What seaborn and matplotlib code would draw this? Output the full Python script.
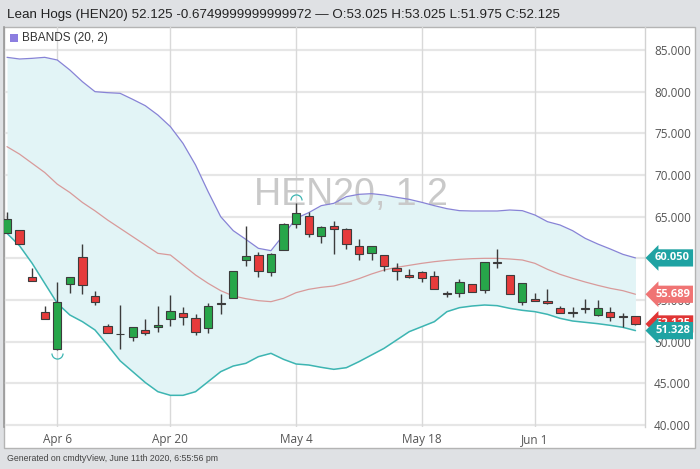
import numpy as np
import pandas as pd
import matplotlib
matplotlib.use("Agg")
import matplotlib.pyplot as plt
import matplotlib.transforms as mtransforms
import seaborn as sns
from matplotlib.path import Path
from matplotlib.patches import Rectangle

# ---------------- data ----------------
dates = ["2020-03-31", "2020-04-01", "2020-04-02", "2020-04-03",
         "2020-04-06", "2020-04-07", "2020-04-08", "2020-04-09",
         "2020-04-13", "2020-04-14", "2020-04-15", "2020-04-16", "2020-04-17",
         "2020-04-20", "2020-04-21", "2020-04-22", "2020-04-23", "2020-04-24",
         "2020-04-27", "2020-04-28", "2020-04-29", "2020-04-30", "2020-05-01",
         "2020-05-04", "2020-05-05", "2020-05-06", "2020-05-07", "2020-05-08",
         "2020-05-11", "2020-05-12", "2020-05-13", "2020-05-14", "2020-05-15",
         "2020-05-18", "2020-05-19", "2020-05-20", "2020-05-21", "2020-05-22",
         "2020-05-26", "2020-05-27", "2020-05-28", "2020-05-29",
         "2020-06-01", "2020-06-02", "2020-06-03", "2020-06-04", "2020-06-05",
         "2020-06-08", "2020-06-09", "2020-06-10", "2020-06-11"]

opens = [63.08, 63.36, 57.72, 53.52, 49.08, 56.96, 60.20, 55.48, 51.92, 50.95,
         50.60, 51.44, 51.72, 52.68, 53.40, 52.88, 51.64, 54.55, 55.28, 59.84,
         60.36, 58.32, 61.04, 64.08, 65.12, 62.72, 63.88, 63.52, 61.52, 60.60,
         60.40, 58.84, 58.04, 58.40, 57.88, 55.78, 55.80, 56.88, 56.20, 59.56,
         57.96, 54.80, 55.08, 54.88, 54.04, 53.54, 53.98, 53.20, 53.60, 53.02,
         53.025]
highs = [65.52, 63.40, 58.80, 54.28, 57.12, 57.72, 61.72, 56.08, 52.16, 54.36,
         51.80, 52.76, 54.32, 55.60, 54.20, 53.32, 54.68, 55.72, 58.44, 63.92,
         60.72, 60.60, 64.20, 66.60, 65.52, 63.90, 64.52, 63.60, 62.28, 61.50,
         60.40, 59.48, 58.68, 58.50, 58.48, 56.12, 57.48, 56.90, 59.60, 61.16,
         58.00, 57.00, 55.80, 56.36, 54.32, 54.12, 55.12, 55.00, 54.20, 53.40,
         53.025]
lows = [63.00, 61.72, 57.24, 52.72, 49.00, 55.80, 55.68, 54.36, 51.04, 49.08,
        50.08, 50.84, 51.12, 51.92, 52.00, 50.84, 51.00, 53.28, 55.28, 59.08,
        57.80, 57.92, 61.00, 63.60, 62.52, 61.80, 60.48, 61.12, 59.80, 59.80,
        58.48, 57.40, 57.64, 57.12, 56.32, 55.40, 55.40, 55.92, 55.80, 58.88,
        55.68, 54.40, 54.92, 54.50, 53.40, 52.92, 53.48, 53.10, 52.48, 51.72,
        51.975]
closes = [64.72, 61.72, 57.24, 52.72, 54.72, 57.72, 56.84, 54.76, 51.04, 50.90,
          51.76, 51.04, 52.00, 53.72, 52.96, 51.12, 54.32, 54.62, 58.44, 60.24,
          58.44, 60.52, 64.16, 65.44, 62.96, 63.80, 63.48, 61.72, 60.48, 61.48,
          59.12, 58.44, 57.80, 57.68, 56.32, 55.74, 57.16, 55.92, 59.56, 59.50,
          55.68, 57.00, 54.92, 54.60, 53.48, 53.50, 53.94, 54.00, 53.00, 52.98,
          52.125]

# Bollinger bands (20, 2) as drawn
upper = [84.12, 83.92, 84.00, 84.12, 83.80, 82.60, 81.20, 80.00, 79.88, 79.80,
         79.08, 78.32, 77.20, 75.80, 73.80, 71.20, 68.00, 65.00, 63.32, 62.28,
         61.20, 60.92, 62.80, 64.80, 65.48, 66.32, 66.60, 67.40, 67.68, 67.76,
         67.60, 67.32, 67.08, 66.72, 66.32, 65.96, 65.72, 65.68, 65.68, 65.68,
         65.80, 65.72, 65.20, 64.40, 64.00, 63.32, 62.40, 61.72, 61.12, 60.48,
         60.050]
middle = [73.40, 72.50, 71.40, 70.30, 68.90, 67.90, 66.70, 65.70, 64.60, 63.60,
          62.60, 61.60, 60.60, 60.40, 59.20, 58.00, 57.00, 56.12, 55.48, 55.16,
          54.92, 54.80, 55.20, 55.88, 56.28, 56.52, 56.68, 57.08, 57.56, 58.12,
          58.60, 58.92, 59.16, 59.40, 59.60, 59.76, 59.88, 59.96, 60.00, 60.00,
          59.92, 59.80, 59.40, 58.68, 58.08, 57.60, 57.16, 56.76, 56.40, 56.12,
          55.689]
lower = [63.00, 61.50, 59.40, 57.00, 54.60, 53.20, 52.40, 51.40, 49.60, 47.70,
         46.40, 45.10, 44.00, 43.56, 43.56, 44.00, 45.20, 46.40, 47.08, 47.40,
         48.20, 48.60, 47.88, 47.32, 47.20, 46.92, 46.68, 46.88, 47.60, 48.40,
         49.20, 50.20, 51.20, 51.80, 52.40, 53.60, 54.08, 54.28, 54.40, 54.32,
         54.00, 53.76, 53.60, 53.28, 52.80, 52.48, 52.32, 52.16, 51.96, 51.72,
         51.328]

tick_dates = ["2020-04-06", "2020-04-20", "2020-05-04", "2020-05-18", "2020-06-01"]
tick_labels = ["Apr 6", "Apr 20", "May 4", "May 18", "Jun 1"]
y_ticks = [40, 45, 50, 55, 60, 65, 70, 75, 80, 85]

title = ("Lean Hogs (HEN20) 52.125 -0.6749999999999972 \u2014 "
         "O:53.025 H:53.025 L:51.975 C:52.125")
footer = "Generated on cmdtyView, June 11th 2020, 6:55:56 pm"

# ---------------- style ----------------
sns.set_theme(style="white")
plt.rcParams["font.family"] = ["Open Sans", "DejaVu Sans"]

GREEN = "#27a64a"
RED = "#e63b3b"
EDGE = "#3c3c3c"
C_UP = "#8783d6"
C_MID = "#d89a9a"
C_LOW = "#3db5b2"
FILL = "#e2f4f6"

df = pd.DataFrame({"date": pd.to_datetime(dates), "open": opens, "high": highs,
                   "low": lows, "close": closes, "upper": upper,
                   "middle": middle, "lower": lower})
df["i"] = np.arange(len(df))

fig = plt.figure(figsize=(7.0, 4.69), dpi=100)
fig.patch.set_facecolor("#dfe1e4")
W, H = 700.0, 469.0
fig.patches.append(Rectangle((4 / W, (H - 448) / H), 691 / W, 421 / H,
                             transform=fig.transFigure, facecolor="white",
                             edgecolor="#b4b4b4", linewidth=1, zorder=-5))

ax = fig.add_axes([4 / W, (H - 427) / H, 641 / W, 400 / H])
ax.set_facecolor("none")
ax.set_zorder(1)

# band fill and lines
ax.fill_between(df["i"], df["lower"], df["upper"], color=FILL, zorder=1, lw=0)
sns.lineplot(data=df, x="i", y="upper", color=C_UP, lw=0.9, ax=ax, zorder=2)
sns.lineplot(data=df, x="i", y="middle", color=C_MID, lw=0.9, ax=ax, zorder=2)
sns.lineplot(data=df, x="i", y="lower", color=C_LOW, lw=1.1, ax=ax, zorder=2)

# candles
body_lo = np.minimum(df["open"], df["close"])
body_h = np.maximum(np.abs(df["close"] - df["open"]), 0.06)
cols = np.where(df["close"] >= df["open"], GREEN, RED)
ax.vlines(df["i"], df["low"], df["high"], color=EDGE, lw=1.0, zorder=3)
ax.bar(df["i"], body_h, bottom=body_lo, width=0.66, color=cols,
       edgecolor=EDGE, linewidth=0.8, zorder=4)

# high / low markers
i_hi = int(df["high"].idxmax())
i_lo = int(df["low"].idxmin())
ax.plot(i_hi, df["high"][i_hi] + 0.35, marker=Path.arc(0, 180), ms=8,
        mfc="none", mec=C_LOW, mew=0.9, zorder=5)
ax.plot(i_lo, df["low"][i_lo] - 0.35, marker=Path.arc(180, 360), ms=8,
        mfc="none", mec=C_LOW, mew=0.9, zorder=5)

# axes
ax.set_xlim(-0.24, len(df) - 0.24)
ax.set_ylim(39.76, 87.76)
tick_pos = [int(df.index[df["date"] == pd.Timestamp(d)][0]) for d in tick_dates]
ax.set_xticks(tick_pos)
ax.set_xticklabels(tick_labels)
ax.set_yticks(y_ticks)
ax.set_yticklabels([f"{v:.3f}" for v in y_ticks])
ax.yaxis.tick_right()
ax.tick_params(axis="y", length=0, pad=6.5, labelsize=8.5, labelcolor="#555555")
ax.tick_params(axis="x", length=3, width=1, color="#cfcfcf", pad=1.5,
               labelsize=8.5, labelcolor="#555555")
ax.set_xlabel("")
ax.set_ylabel("")
for yv in y_ticks:
    ax.axhline(yv, color="#e6e6e6", lw=1.6, zorder=0.5)
for xv in tick_pos:
    ax.axvline(xv, color="#d9d9d9", lw=1.0, zorder=0.5)
for s in ["top", "bottom"]:
    ax.spines[s].set_visible(False)
ax.spines["left"].set_color("#9a9a9a")
ax.spines["left"].set_linewidth(1.2)
ax.spines["right"].set_color("#d2d2d2")
ax.spines["right"].set_linewidth(1.0)

# watermark
ax.text(0.541, 0.58, "HEN20, 1 2", transform=ax.transAxes, ha="center",
        va="center", fontsize=27, color="#c9c9c9", family="Liberation Sans",
        zorder=1.5)

# legend
fig.patches.append(Rectangle((10 / W, (H - 42) / H), 8 / W, 8 / H,
                             transform=fig.transFigure, facecolor="#8c7ee0",
                             edgecolor="none", zorder=-4))
fig.text(22 / W, (H - 38) / H, "BBANDS (20, 2)", ha="left", va="center",
         fontsize=8.5, color="#333333", family="Liberation Sans")

# last-value labels on the right
trans = mtransforms.blended_transform_factory(ax.transAxes, ax.transData)
last = [(upper[-1], "#1fa3a3"), (middle[-1], "#f07474"),
        (closes[-1], "#e03535"), (lower[-1], "#1fa3a3")]
for val, col in last:
    ax.text(1.0 + 10 / 641, val, f"{val:.3f}", transform=trans, ha="left",
            va="center", fontsize=8, fontweight="bold", color="white",
            bbox=dict(boxstyle="larrow,pad=0.28", fc=col, ec="none"),
            zorder=10, clip_on=False)

# title and footer
fig.text(7 / W, (H - 15) / H, title, ha="left", va="center", fontsize=9.6,
         color="#222222", family="Liberation Sans")
fig.text(7 / W, (H - 458) / H, footer, ha="left", va="center", fontsize=6.3,
         color="#444444", family="Liberation Sans")

fig.savefig("out.png", dpi=100)
